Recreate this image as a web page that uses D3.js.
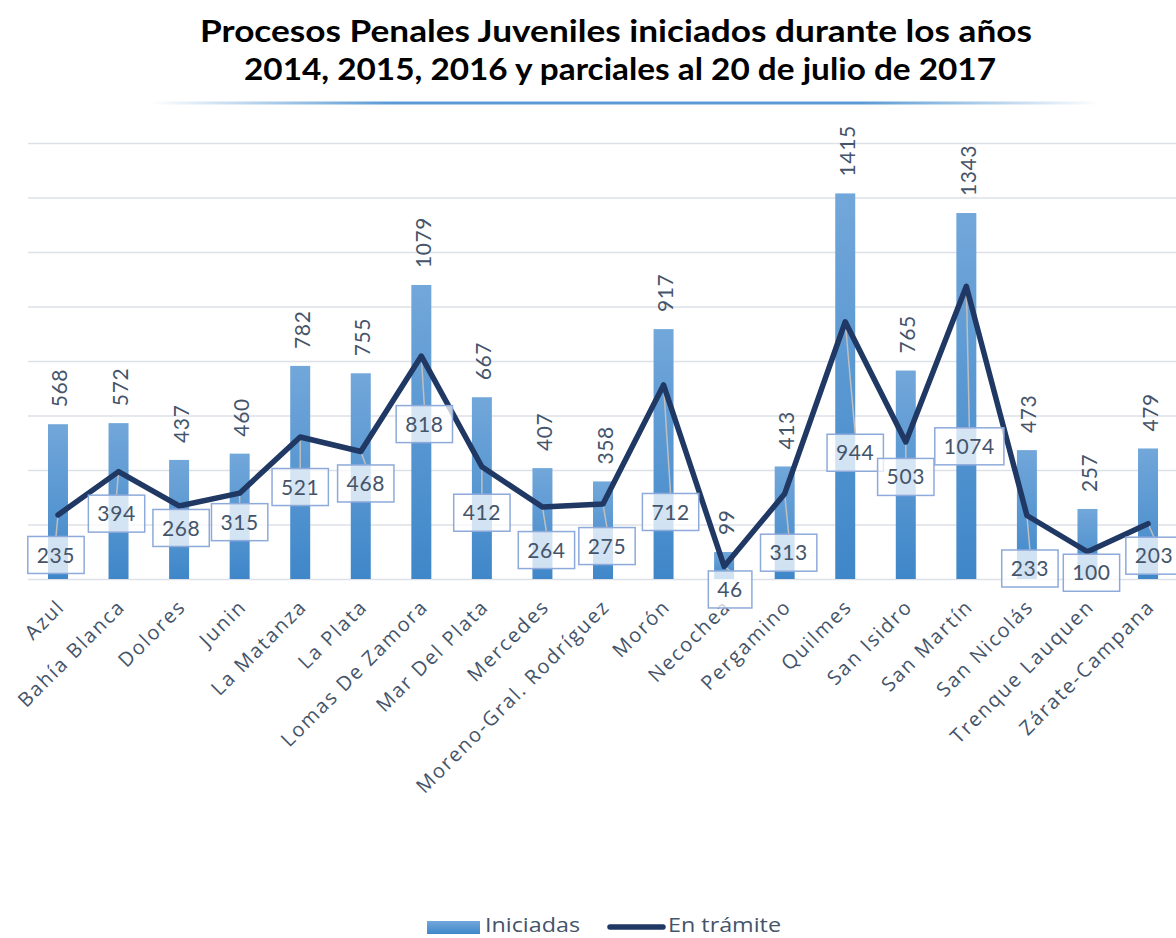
<!DOCTYPE html>
<html>
<head>
<meta charset="utf-8">
<script src="https://cdn.jsdelivr.net/npm/d3@7"></script>
<style>
  html, body { margin: 0; padding: 0; background: #ffffff; }
  svg { display: block; font-family: Lato, "Open Sans", sans-serif; }
</style>
</head>
<body>
<svg id="chart" width="1176" height="938"></svg>
<script>
// ---- Data ----
const categories = ["Azul", "Bahía Blanca", "Dolores", "Junin", "La Matanza", "La Plata",
  "Lomas De Zamora", "Mar Del Plata", "Mercedes", "Moreno-Gral. Rodríguez", "Morón",
  "Necochea", "Pergamino", "Quilmes", "San Isidro", "San Martín", "San Nicolás",
  "Trenque Lauquen", "Zárate-Campana"];
const iniciadas = [568, 572, 437, 460, 782, 755, 1079, 667, 407, 358, 917, 99, 413, 1415, 765, 1343, 473, 257, 479];
const enTramite = [235, 394, 268, 315, 521, 468, 818, 412, 264, 275, 712, 46, 313, 944, 503, 1074, 233, 100, 203];
const gridTicks = [0, 200, 400, 600, 800, 1000, 1200, 1400, 1600];
const seriesNames = ["Iniciadas", "En trámite"];
const titleLines = ["Procesos Penales Juveniles iniciados durante los años",
  "2014, 2015, 2016 y parciales al 20 de julio de 2017"];

// ---- Layout (label placement offsets, px, relative to each line point) ----
const lineLabelOffsets = [[-2,40],[-2,42],[2,22],[0,29],[0,50],[5,32],[3,68],[0,46],[4,43],[4,42],
  [7,127],[6,23],[4,59],[10,131],[0,35],[3,160],[3,53],[4,21],[6,32]];

const W = 1176, H = 938;
const plot = { left: 27.7, right: 1178.3, top: 143, bottom: 579 };
const textColor = "#44546a";
const labelFont = "'Open Sans', Lato, sans-serif";
const svg = d3.select("#chart");

const defs = svg.append("defs");
const grad = defs.append("linearGradient").attr("id", "barGrad")
  .attr("x1", 0).attr("y1", 0).attr("x2", 0).attr("y2", 1);
grad.append("stop").attr("offset", "0%").attr("stop-color", "#72a7da");
grad.append("stop").attr("offset", "100%").attr("stop-color", "#3f87c9");

const ruleGrad = defs.append("linearGradient").attr("id", "ruleGrad")
  .attr("x1", 0).attr("y1", 0).attr("x2", 1).attr("y2", 0);
ruleGrad.append("stop").attr("offset", "0%").attr("stop-color", "#5b9bd5").attr("stop-opacity", 0);
ruleGrad.append("stop").attr("offset", "25%").attr("stop-color", "#5b9bd5").attr("stop-opacity", 1);
ruleGrad.append("stop").attr("offset", "75%").attr("stop-color", "#5b9bd5").attr("stop-opacity", 1);
ruleGrad.append("stop").attr("offset", "100%").attr("stop-color", "#5b9bd5").attr("stop-opacity", 0);

// ---- Scales ----
const x = d3.scaleBand().domain(categories).range([plot.left, plot.right])
  .paddingInner(0.67).paddingOuter(0.335);
const y = d3.scaleLinear().domain([0, 1600]).range([plot.bottom, plot.top]);
const cx = c => x(c) + x.bandwidth() / 2;

// ---- Title ----
const titleG = svg.append("g");
const titleBaselines = [42, 80];
const titleWidths = [832, 752];
const titleCenters = [616, 620];
titleLines.forEach((t, i) => {
  titleG.append("text").attr("x", titleCenters[i]).attr("y", titleBaselines[i])
    .attr("text-anchor", "middle").attr("font-weight", 700)
    .attr("font-size", 30).attr("fill", "#000")
    .attr("textLength", titleWidths[i]).attr("lengthAdjust", "spacingAndGlyphs")
    .text(t);
});

svg.append("rect").attr("x", 150).attr("y", 101.5).attr("width", 950).attr("height", 3)
  .attr("fill", "url(#ruleGrad)");

// ---- Gridlines ----
const yAxis = d3.axisLeft(y).tickValues(gridTicks).tickSize(-(W - 28)).tickFormat("");
const gGrid = svg.append("g").attr("transform", `translate(28,0)`).call(yAxis);
gGrid.select(".domain").remove();
gGrid.selectAll(".tick line").attr("stroke", "#dde1e7").attr("stroke-width", 1.5);

// ---- Bars ----
svg.append("g").selectAll("rect").data(categories).join("rect")
  .attr("x", c => x(c)).attr("width", x.bandwidth())
  .attr("y", (c, i) => y(iniciadas[i]))
  .attr("height", (c, i) => y(0) - y(iniciadas[i]))
  .attr("fill", "url(#barGrad)");

// ---- X axis labels ----
const xAxis = d3.axisBottom(x).tickSize(0).tickPadding(0);
const gX = svg.append("g").attr("transform", `translate(0,${plot.bottom})`).call(xAxis);
gX.select(".domain").remove();
const catText = gX.selectAll(".tick text")
  .attr("font-size", 20).attr("fill", textColor).attr("font-family", labelFont)
  .attr("text-anchor", "end").attr("dy", 0).attr("y", 0)
  .attr("transform", "translate(8,29) rotate(-45)");
const longest = catText.filter(c => c === "Moreno-Gral. Rodríguez").node();
const ls = Math.max(0, (262 - longest.getComputedTextLength()) / 21);
catText.attr("letter-spacing", ls);

// ---- Line positions ----
const pts = categories.map((c, i) => [cx(c), y(enTramite[i])]);

const boxH = 37;
const labelData = categories.map((c, i) => ({
  px: pts[i][0], py: pts[i][1],
  bx: pts[i][0] + lineLabelOffsets[i][0], by: pts[i][1] + lineLabelOffsets[i][1],
  v: enTramite[i]
}));
// leader lines
svg.append("g").selectAll("line").data(labelData).join("line")
  .attr("x1", d => d.px).attr("y1", d => d.py)
  .attr("x2", d => d.bx).attr("y2", d => d.by - boxH / 2)
  .attr("stroke", "#bfbfbf").attr("stroke-width", 1.5);

// the line
const lineGen = d3.line().x((d, i) => cx(categories[i])).y(d => y(d));
svg.append("path").datum(enTramite).attr("d", lineGen)
  .attr("fill", "none").attr("stroke", "#203864").attr("stroke-width", 5.5)
  .attr("stroke-linejoin", "round").attr("stroke-linecap", "round");

// line labels (boxes)
const lg = svg.append("g").selectAll("g").data(labelData).join("g")
  .attr("transform", d => `translate(${d.bx},${d.by})`);
lg.append("text").attr("text-anchor", "middle").attr("dy", "0.36em")
  .attr("font-size", 21).attr("fill", textColor).attr("letter-spacing", 0.6).text(d => d.v);
lg.each(function () {
  const g = d3.select(this);
  const w = g.select("text").node().getComputedTextLength() + 18;
  g.insert("rect", "text").attr("x", -w / 2).attr("y", -boxH / 2)
    .attr("width", w).attr("height", boxH)
    .attr("fill", "#ffffff").attr("fill-opacity", 0.75)
    .attr("stroke", "#8eaadb").attr("stroke-width", 1.5);
});

// bar value labels
svg.append("g").selectAll("text").data(categories).join("text")
  .attr("transform", (c, i) => `translate(${cx(c) + 9.5},${y(iniciadas[i]) - 17}) rotate(-90)`)
  .attr("text-anchor", "start").attr("font-size", 21).attr("fill", textColor)
  .attr("letter-spacing", 0.6)
  .text((c, i) => iniciadas[i]);

// ---- Legend ----
const leg = svg.append("g");
leg.append("rect").attr("x", 427).attr("y", 921).attr("width", 53).attr("height", 13)
  .attr("fill", "url(#barGrad)");
leg.append("text").attr("x", 485).attr("y", 932).attr("font-size", 20).attr("fill", textColor)
  .attr("font-family", labelFont).attr("textLength", 95).attr("lengthAdjust", "spacingAndGlyphs")
  .text(seriesNames[0]);
leg.append("line").attr("x1", 610).attr("x2", 663).attr("y1", 927).attr("y2", 927)
  .attr("stroke", "#203864").attr("stroke-width", 5.5).attr("stroke-linecap", "round");
leg.append("text").attr("x", 668).attr("y", 932).attr("font-size", 20).attr("fill", textColor)
  .attr("font-family", labelFont).attr("textLength", 113).attr("lengthAdjust", "spacingAndGlyphs")
  .text(seriesNames[1]);
</script>
</body>
</html>
